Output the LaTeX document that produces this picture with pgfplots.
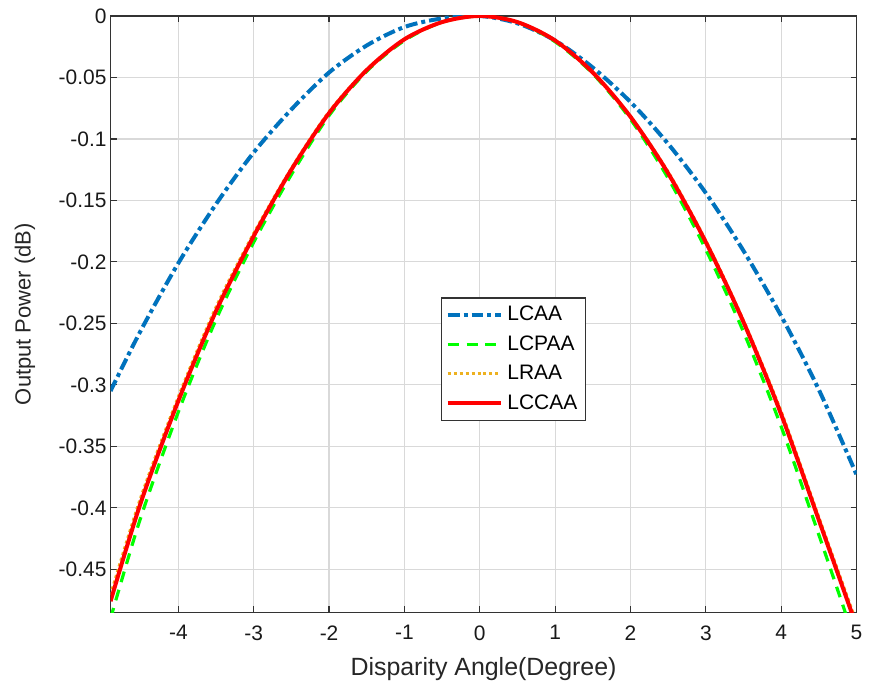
\documentclass[border=0pt]{standalone}
\usepackage{pgfplots}
\pgfplotsset{compat=1.18}
\usepackage{fontspec}
\setmainfont{Liberation Sans}

\definecolor{mblue}{RGB}{0,114,189}
\definecolor{mgreen}{RGB}{0,255,0}
\definecolor{morange}{RGB}{237,177,32}
\definecolor{mred}{RGB}{255,0,0}

\begin{document}
\begin{tikzpicture}
\begin{axis}[
    scale only axis,
    width=374pt, height=299pt,
    xmin=-4.9, xmax=5,
    ymin=-0.485, ymax=0,
    xtick={-4,-3,...,5},
    ytick={-0.45,-0.4,...,0},
    scaled y ticks=false,
    yticklabel style={/pgf/number format/fixed, /pgf/number format/precision=2, xshift=1.5pt},
    xticklabel style={yshift=-3pt},
    /pgf/number format/assume math mode=true,
    ticklabel style={font=\fontsize{10.5}{12}\selectfont, text=black!90},
    tick align=inside,
    major tick length=3pt,
    tick style={black!80, line width=0.6pt},
    axis line style={black!80, line width=0.8pt},
    grid=major,
    grid style={gray!30, line width=0.6pt},
    xlabel={Disparity Angle(Degree)},
    ylabel={Output Power (dB)},
    xlabel style={font=\fontsize{12.5}{14}\selectfont, text=black!85, yshift=-2pt},
    ylabel style={font=\fontsize{11}{13}\selectfont, text=black!85, yshift=5pt},
    legend style={at={(0.443,0.528)}, anchor=north west,
        draw=black!80, fill=white, line width=0.6pt,
        font=\fontsize{10.5}{12}\selectfont,
        row sep=2pt, inner sep=2pt},
    legend cell align=left,
    legend image code/.code={\draw[#1] (0pt,0pt) -- (27pt,0pt);},
]
% LCAA
\addplot[mblue, line width=2pt, dash pattern=on 6pt off 2pt on 2pt off 2pt, smooth] coordinates {
(-4.9,-0.305) (-4.5,-0.256) (-4,-0.201) (-3.5,-0.153) (-3,-0.111) (-2.5,-0.076)
(-2,-0.046) (-1.5,-0.024) (-1,-0.009) (-0.5,-0.002) (0,0) (0.5,-0.006)
(1,-0.020) (1.5,-0.042) (2,-0.070) (2.5,-0.104) (3,-0.144) (3.5,-0.191)
(4,-0.244) (4.5,-0.304) (5,-0.373)
};
\addlegendentry{LCAA}
% LCPAA
\addplot[mgreen, line width=1.6pt, dash pattern=on 5.5pt off 4pt, smooth] coordinates {
(-4.9,-0.490) (-4.5,-0.408) (-4,-0.322) (-3.5,-0.247) (-3,-0.184) (-2.5,-0.129)
(-2,-0.081) (-1.5,-0.045) (-1,-0.020) (-0.5,-0.005) (0,0) (0.5,-0.005)
(1,-0.021) (1.5,-0.047) (2,-0.084) (2.5,-0.132) (3,-0.190) (3.5,-0.257)
(4,-0.334) (4.5,-0.422) (4.9,-0.494)
};
\addlegendentry{LCPAA}
% LRAA
\addplot[morange, line width=1.6pt, dash pattern=on 1.5pt off 1.5pt, smooth] coordinates {
(-4.9,-0.471) (-4.5,-0.392) (-4,-0.310) (-3.5,-0.237) (-3,-0.177) (-2.5,-0.124)
(-2,-0.078) (-1.5,-0.044) (-1,-0.019) (-0.5,-0.005) (0,0) (0.5,-0.005)
(1,-0.020) (1.5,-0.046) (2,-0.082) (2.5,-0.127) (3,-0.183) (3.5,-0.248)
(4,-0.322) (4.5,-0.408) (4.95,-0.485)
};
\addlegendentry{LRAA}
% LCCAA
\addplot[mred, line width=2pt, smooth] coordinates {
(-4.9,-0.476) (-4.5,-0.396) (-4,-0.313) (-3.5,-0.240) (-3,-0.179) (-2.5,-0.125)
(-2,-0.079) (-1.5,-0.044) (-1,-0.019) (-0.5,-0.005) (0,0) (0.5,-0.005)
(1,-0.020) (1.5,-0.046) (2,-0.082) (2.5,-0.128) (3,-0.184) (3.5,-0.249)
(4,-0.324) (4.5,-0.410) (4.94,-0.486)
};
\addlegendentry{LCCAA}
\end{axis}
% white margins as in the reference
\path (current axis.north) ++(0,8pt);
\path (current axis.outer west) ++(-4pt,0);
\end{tikzpicture}
\end{document}
